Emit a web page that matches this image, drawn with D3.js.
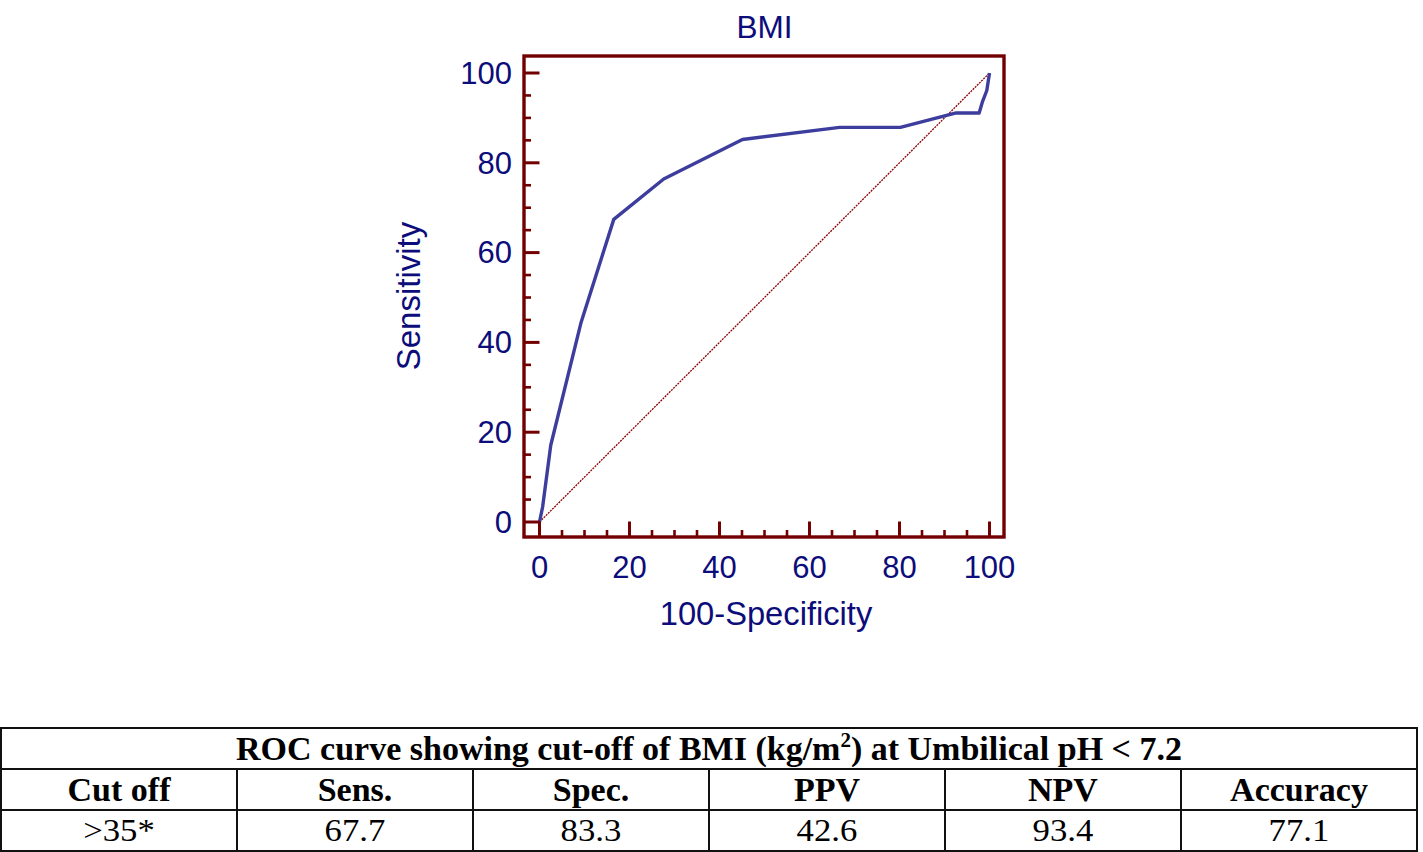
<!DOCTYPE html>
<html><head><meta charset="utf-8">
<script src="https://cdn.jsdelivr.net/npm/d3@7"></script>
<style>body{margin:0;background:#fff;} svg{display:block;}</style>
</head><body>
<svg id="c" width="1423" height="852"></svg>
<script>
// ---- data ----
const fpr = [0, 0.7, 2.5, 9.2, 16.5, 27.6, 45.1, 66.7, 80.2, 92.6, 97.7, 98.4, 99.4, 100];
const tpr = [0, 3.4, 17.1, 44.3, 67.4, 76.4, 85.2, 87.9, 87.9, 91.1, 91.1, 93.5, 96.1, 100];
const majorTicks = [0, 20, 40, 60, 80, 100];
const minorTicks = d3.range(0, 101, 5);
const chartTitle = "BMI";
const xLabel = "100-Specificity";
const yLabel = "Sensitivity";
const tableTitle = "ROC curve showing cut-off of BMI (kg/m";
const tableTitleEnd = ") at Umbilical pH < 7.2";
const tableHeaders = ["Cut off", "Sens.", "Spec.", "PPV", "NPV", "Accuracy"];
const tableValues = [">35*", "67.7", "83.3", "42.6", "93.4", "77.1"];

const svg = d3.select("#c");
const navy = "#0c0c7a", maroon = "#730000", curveCol = "#3d3d9e";
const x = d3.scaleLinear().domain([0,100]).range([539.5, 989.5]);
const y = d3.scaleLinear().domain([0,100]).range([522, 73]);
const frame = {l:524, r:1004, t:56, b:537};

// diagonal
svg.append("line").attr("x1", x(0)).attr("y1", y(0)).attr("x2", x(100)).attr("y2", y(100))
  .attr("stroke", "#8b0000").attr("stroke-width", 1.3).attr("stroke-dasharray", "2,1");

// curve
svg.append("path").datum(fpr.map((v,i)=>[v,tpr[i]]))
  .attr("d", d3.line().x(d=>x(d[0])).y(d=>y(d[1])))
  .attr("fill","none").attr("stroke",curveCol).attr("stroke-width",3.4).attr("stroke-linejoin","round");

// frame
svg.append("rect").attr("x",frame.l).attr("y",frame.t).attr("width",frame.r-frame.l).attr("height",frame.b-frame.t)
  .attr("fill","none").attr("stroke",maroon).attr("stroke-width",3.4);

// ticks (inward)
const g = svg.append("g").attr("stroke", maroon);
minorTicks.forEach(t => {
  const major = majorTicks.includes(t);
  const len = major ? 15.5 : 7;
  const sw = major ? 3 : 2.6;
  g.append("line").attr("stroke-width", sw).attr("x1", x(t)).attr("x2", x(t)).attr("y1", frame.b).attr("y2", frame.b-len);
  g.append("line").attr("stroke-width", sw).attr("y1", y(t)).attr("y2", y(t)).attr("x1", frame.l).attr("x2", frame.l+len);
});

// tick labels
const font = "Liberation Sans, Arial, Helvetica, sans-serif";
svg.append("g").selectAll("text").data(majorTicks).join("text")
  .attr("x", d=>x(d)).attr("y", 578).attr("text-anchor","middle")
  .attr("font-family",font).attr("font-size",31).attr("fill",navy).text(d=>d);
svg.append("g").selectAll("text").data(majorTicks).join("text")
  .attr("x", 512).attr("y", d=>y(d)+10.8).attr("text-anchor","end")
  .attr("font-family",font).attr("font-size",31).attr("fill",navy).text(d=>d);

svg.append("text").attr("x",764.5).attr("y",38).attr("text-anchor","middle")
  .attr("font-family",font).attr("font-size",31.5).attr("fill",navy).text(chartTitle);
svg.append("text").attr("x",766).attr("y",625).attr("text-anchor","middle")
  .attr("font-family",font).attr("font-size",32.7).attr("fill",navy).text(xLabel);
svg.append("text").attr("transform","translate(420,296) rotate(-90)").attr("text-anchor","middle")
  .attr("font-family",font).attr("font-size",33).attr("fill",navy).text(yLabel);

// table
const tf = "Liberation Serif, 'Times New Roman', Times, serif";
const tx0 = 1, tx1 = 1417, rows = [728, 769, 810, 851];
const colW = (tx1 - tx0) / tableHeaders.length;
const tg = svg.append("g");
tg.append("rect").attr("x",tx0).attr("y",rows[0]).attr("width",tx1-tx0).attr("height",rows[3]-rows[0])
  .attr("fill","none").attr("stroke","#111").attr("stroke-width",2);
[rows[1], rows[2]].forEach(r => tg.append("line").attr("x1",tx0).attr("x2",tx1).attr("y1",r).attr("y2",r)
  .attr("stroke","#111").attr("stroke-width",2));
for (let i=1;i<tableHeaders.length;i++){
  tg.append("line").attr("x1",tx0+i*colW).attr("x2",tx0+i*colW).attr("y1",rows[1]).attr("y2",rows[3])
    .attr("stroke","#111").attr("stroke-width",2);
}
const tt = tg.append("text").attr("x",709).attr("y",760).attr("text-anchor","middle")
  .attr("font-family",tf).attr("font-size",34).attr("font-weight","bold").attr("fill","#000");
tt.append("tspan").text(tableTitle);
tt.append("tspan").attr("font-size",21).attr("dy",-13).text("2");
tt.append("tspan").attr("dy",13).text(tableTitleEnd);
tg.selectAll("text.h").data(tableHeaders).join("text").attr("class","h")
  .attr("x",(d,i)=>tx0+colW*(i+0.5)).attr("y",801).attr("text-anchor","middle")
  .attr("font-family",tf).attr("font-size",34).attr("font-weight","bold").text(d=>d);
tg.selectAll("text.v").data(tableValues).join("text").attr("class","v")
  .attr("transform",(d,i)=>`translate(${tx0+colW*(i+0.5)},841) scale(1.12,1)`).attr("text-anchor","middle")
  .attr("font-family",tf).attr("font-size",31).text(d=>d);
</script>
</body></html>
